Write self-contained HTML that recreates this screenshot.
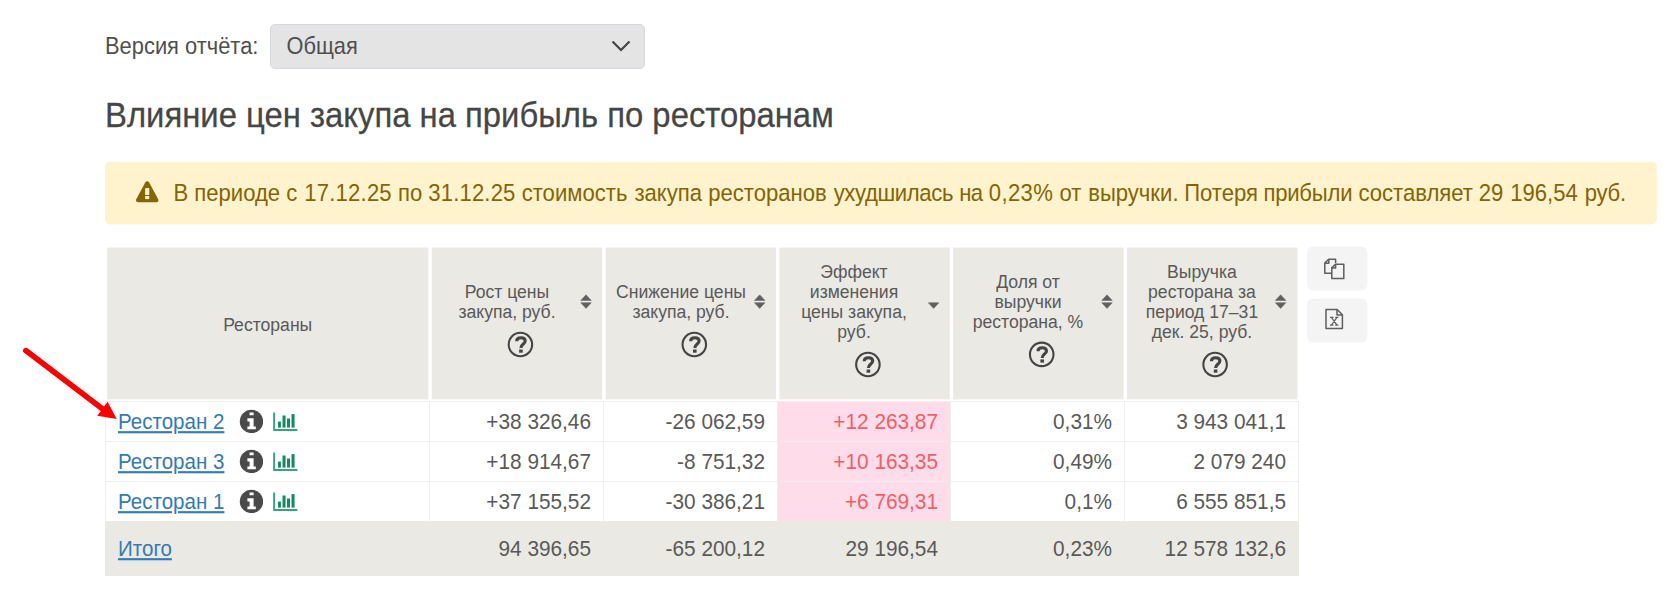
<!DOCTYPE html>
<html lang="ru">
<head>
<meta charset="utf-8">
<title>Влияние цен закупа на прибыль по ресторанам</title>
<style>
*{box-sizing:border-box;}
html,body{margin:0;padding:0;background:#fff;}
body{width:1680px;height:593px;overflow:hidden;position:relative;font-family:"Liberation Sans",sans-serif;color:#4d4d4d;}
.abs{position:absolute;}
#lbl{left:105px;top:33.5px;font-size:21.9px;line-height:26px;white-space:nowrap;color:#4f4f4f;transform-origin:0 20.65px;transform:scaleY(1.12);}
#sel{left:270px;top:24px;width:375px;height:45px;background:#e4e4e4;border:1px solid #d5d8df;border-radius:5px;}
#sel span{position:absolute;left:15.5px;top:8.55px;font-size:21.78px;line-height:26px;color:#4f4f4f;transform-origin:0 20.6px;transform:scaleY(1.12);}
#sel svg{position:absolute;left:340.4px;top:15.3px;}
#h1{left:105px;top:96.3px;font-size:32.85px;line-height:40px;white-space:nowrap;color:#464646;margin:0;font-weight:normal;transform-origin:0 31.35px;transform:scaleY(1.09);-webkit-text-stroke:0.25px #464646;}
#warn{left:105px;top:162px;width:1552px;height:63px;color:#856404;}
#warn span{position:absolute;left:68.4px;top:19px;font-size:22.1px;line-height:26px;white-space:nowrap;transform-origin:0 20.64px;transform:scaleY(1.075);}
#warn span i{position:absolute;top:0;font-style:normal;white-space:nowrap;}
#warn svg{position:absolute;left:30px;top:18px;}
.th{position:absolute;top:248.3px;height:151px;}
.th .t{position:absolute;font-size:17.6px;line-height:20px;text-align:center;color:#595959;white-space:nowrap;}
.q{position:absolute;}
.srt{position:absolute;}
.row{position:absolute;left:105px;width:1194px;height:41px;border:1px solid #f0eeeb;}
.c{position:absolute;top:0.4px;height:39px;font-size:20.8px;line-height:39px;text-align:right;white-space:nowrap;color:#595959;transform-origin:0 26.7px;transform:scaleY(1.05);}
.vl{position:absolute;top:401px;width:1px;height:120px;background:#f0eeeb;}
a{color:#337ab7;text-decoration:underline;}
.lnk{top:0.4px;font-size:20.55px;line-height:39px;white-space:nowrap;transform-origin:0 26.6px;transform:scaleY(1.063);}
.pink{background:#ffdbe8;}
.red{color:#f45d65;}
#tot{left:105px;top:521px;width:1194px;height:55px;background:#ebe9e4;}
#tot .c{height:55px;line-height:55px;transform-origin:0 34.7px;}
#tot .lnk{transform-origin:0 34.7px;}
.btn{position:absolute;left:1307px;width:60.3px;height:44px;background:#f4f4f4;border-radius:6px;}
</style>
</head>
<body>
<div id="lbl" class="abs">Версия отчёта:</div>
<div id="sel" class="abs"><span>Общая</span>
<svg width="20" height="12" viewBox="0 0 20 12"><path d="M1.5 1.5 L10 10 L18.5 1.5" fill="none" stroke="#444" stroke-width="2.2"/></svg>
</div>
<h1 id="h1" class="abs">Влияние цен закупа на прибыль по ресторанам</h1>
<svg class="abs" style="left:100px;top:155px;" width="1570" height="80" viewBox="100 155 1570 80"><rect x="105" y="161.8" width="1551.8" height="62.6" rx="5" fill="#fff3cd"/></svg>
<div id="warn" class="abs">
<svg width="25" height="24" viewBox="0 0 25 24"><g transform="translate(0.2,0.7)"><path d="M12 0.5 C12.7 0.5 13.4 0.9 13.8 1.6 L23 18.5 C23.7 19.8 22.8 21.5 21.2 21.5 L2.8 21.5 C1.2 21.5 0.3 19.8 1 18.5 L10.2 1.6 C10.6 0.9 11.3 0.5 12 0.5 Z" fill="#856404"/><rect x="9.95" y="7.4" width="4.1" height="6.9" fill="#fff3cd"/><rect x="9.95" y="15.3" width="4.1" height="3.1" fill="#fff3cd"/></g></svg>
<span><i style="left:0.0px;">В</i><i style="left:20.86px;">периоде</i><i style="left:112.86px;">с</i><i style="left:130.95px;letter-spacing:0.188px;">17.12.25</i><i style="left:224.59px;">по</i><i style="left:254.88px;letter-spacing:0.163px;">31.12.25</i><i style="left:348.32px;">стоимость</i><i style="left:461.06px;">закупа</i><i style="left:534.83px;">ресторанов</i><i style="left:660.25px;letter-spacing:-0.37px;">ухудшилась</i><i style="left:785.78px;letter-spacing:-0.5px;">на</i><i style="left:815.42px;letter-spacing:0.36px;">0,23%</i><i style="left:886.0px;">от</i><i style="left:914.77px;">выручки.</i><i style="left:1010.75px;">Потеря</i><i style="left:1090.03px;letter-spacing:-0.214px;">прибыли</i><i style="left:1185.03px;">составляет</i><i style="left:1305.42px;">29</i><i style="left:1336.84px;">196,54</i><i style="left:1411.24px;letter-spacing:-0.225px;">руб.</i></span>
</div>

<!-- header cells -->
<svg class="abs" style="left:100px;top:240px;" width="1280" height="290" viewBox="100 240 1280 290"><rect x="107.2" y="247.5" width="321.1" height="151.9" fill="#ebe9e4"/><rect x="431.8" y="247.5" width="170.4" height="151.9" fill="#ebe9e4"/><rect x="605.5" y="247.5" width="170.5" height="151.9" fill="#ebe9e4"/><rect x="779.4" y="247.5" width="170.3" height="151.9" fill="#ebe9e4"/><rect x="953.1" y="247.5" width="170.5" height="151.9" fill="#ebe9e4"/><rect x="1126.9" y="247.5" width="170.4" height="151.9" fill="#ebe9e4"/><rect x="1307" y="246.6" width="60.3" height="44" rx="6" fill="#f4f4f4"/><rect x="1307" y="298.6" width="60.3" height="44" rx="6" fill="#f4f4f4"/><rect x="777.5" y="402" width="172.9" height="119" fill="#ffdcea"/></svg>

<div class="th" style="left:107.3px;width:321.0px;"><div class="t" style="left:-0.1px;width:321px;top:66.5px;">Рестораны</div></div>
<div class="th" style="left:431.8px;width:170.4px;"><div class="t" style="left:0.2px;width:150px;top:33.5px;">Рост цены<br>закупа, руб.</div></div>
<div class="th" style="left:605.5px;width:170.5px;"><div class="t" style="left:0.5px;width:150px;top:33.5px;">Снижение цены<br>закупа, руб.</div></div>
<div class="th" style="left:779.4px;width:170.3px;"><div class="t" style="left:-0.4px;width:150px;top:13.5px;">Эффект<br>изменения<br>цены закупа,<br>руб.</div></div>
<div class="th" style="left:953.1px;width:170.5px;"><div class="t" style="left:-0.1px;width:150px;top:23.5px;">Доля от<br>выручки<br>ресторана, %</div></div>
<div class="th" style="left:1126.9px;width:170.4px;"><div class="t" style="left:0.1px;width:150px;top:13.5px;">Выручка<br>ресторана за<br>период 17–31<br>дек. 25, руб.</div></div>

<svg class="abs" style="left:506px;top:330px;" width="29" height="29" viewBox="-14 -14 29 29"><g transform="translate(0.4,0.5)"><circle cx="0" cy="0" r="11.75" fill="none" stroke="#444" stroke-width="2.1"/><path d="M-3.7,-3.2 C-3.7,-5.6 -1.9,-6.7 0.6,-6.7 C3.1,-6.7 4.8,-5.4 4.8,-3.4 C4.8,-0.5 0.5,-0.4 0.5,3.5" fill="none" stroke="#444" stroke-width="3.1"/><rect x="-1.3" y="5.0" width="3.6" height="3.2" fill="#444"/></g></svg>
<svg class="abs" style="left:579px;top:294px;" width="15" height="16" viewBox="-7 0 15 16"><g transform="translate(0.0,0)"><path d="M0,0.85 L5.25,6.4 L-5.25,6.4 Z" fill="#606060" stroke="#606060" stroke-width="0.5" stroke-linejoin="round"/><path d="M-5.25,8.7 L5.25,8.7 L0,14.4 Z" fill="#606060" stroke="#606060" stroke-width="0.5" stroke-linejoin="round"/></g></svg>
<svg class="abs" style="left:680px;top:330px;" width="29" height="29" viewBox="-14 -14 29 29"><g transform="translate(0.3,0.5)"><circle cx="0" cy="0" r="11.75" fill="none" stroke="#444" stroke-width="2.1"/><path d="M-3.7,-3.2 C-3.7,-5.6 -1.9,-6.7 0.6,-6.7 C3.1,-6.7 4.8,-5.4 4.8,-3.4 C4.8,-0.5 0.5,-0.4 0.5,3.5" fill="none" stroke="#444" stroke-width="3.1"/><rect x="-1.3" y="5.0" width="3.6" height="3.2" fill="#444"/></g></svg>
<svg class="abs" style="left:752px;top:294px;" width="15" height="16" viewBox="-7 0 15 16"><g transform="translate(0.7,0)"><path d="M0,0.85 L5.25,6.4 L-5.25,6.4 Z" fill="#606060" stroke="#606060" stroke-width="0.5" stroke-linejoin="round"/><path d="M-5.25,8.7 L5.25,8.7 L0,14.4 Z" fill="#606060" stroke="#606060" stroke-width="0.5" stroke-linejoin="round"/></g></svg>
<svg class="abs" style="left:853px;top:350px;" width="29" height="29" viewBox="-14 -14 29 29"><g transform="translate(0.9,0.5)"><circle cx="0" cy="0" r="11.75" fill="none" stroke="#444" stroke-width="2.1"/><path d="M-3.7,-3.2 C-3.7,-5.6 -1.9,-6.7 0.6,-6.7 C3.1,-6.7 4.8,-5.4 4.8,-3.4 C4.8,-0.5 0.5,-0.4 0.5,3.5" fill="none" stroke="#444" stroke-width="3.1"/><rect x="-1.3" y="5.0" width="3.6" height="3.2" fill="#444"/></g></svg>
<svg class="abs" style="left:926px;top:294px;" width="15" height="16" viewBox="-7 0 15 16"><g transform="translate(0.6,0)"><path d="M-5.25,8.7 L5.25,8.7 L0,14.4 Z" fill="#606060" stroke="#606060" stroke-width="0.5" stroke-linejoin="round"/></g></svg>
<svg class="abs" style="left:1027px;top:340px;" width="29" height="29" viewBox="-14 -14 29 29"><g transform="translate(0.7,0.4)"><circle cx="0" cy="0" r="11.75" fill="none" stroke="#444" stroke-width="2.1"/><path d="M-3.7,-3.2 C-3.7,-5.6 -1.9,-6.7 0.6,-6.7 C3.1,-6.7 4.8,-5.4 4.8,-3.4 C4.8,-0.5 0.5,-0.4 0.5,3.5" fill="none" stroke="#444" stroke-width="3.1"/><rect x="-1.3" y="5.0" width="3.6" height="3.2" fill="#444"/></g></svg>
<svg class="abs" style="left:1100px;top:294px;" width="15" height="16" viewBox="-7 0 15 16"><g transform="translate(0.0,0)"><path d="M0,0.85 L5.25,6.4 L-5.25,6.4 Z" fill="#606060" stroke="#606060" stroke-width="0.5" stroke-linejoin="round"/><path d="M-5.25,8.7 L5.25,8.7 L0,14.4 Z" fill="#606060" stroke="#606060" stroke-width="0.5" stroke-linejoin="round"/></g></svg>
<svg class="abs" style="left:1201px;top:350px;" width="29" height="29" viewBox="-14 -14 29 29"><g transform="translate(0.1,0.5)"><circle cx="0" cy="0" r="11.75" fill="none" stroke="#444" stroke-width="2.1"/><path d="M-3.7,-3.2 C-3.7,-5.6 -1.9,-6.7 0.6,-6.7 C3.1,-6.7 4.8,-5.4 4.8,-3.4 C4.8,-0.5 0.5,-0.4 0.5,3.5" fill="none" stroke="#444" stroke-width="3.1"/><rect x="-1.3" y="5.0" width="3.6" height="3.2" fill="#444"/></g></svg>
<svg class="abs" style="left:1273px;top:294px;" width="15" height="16" viewBox="-7 0 15 16"><g transform="translate(0.6,0)"><path d="M0,0.85 L5.25,6.4 L-5.25,6.4 Z" fill="#606060" stroke="#606060" stroke-width="0.5" stroke-linejoin="round"/><path d="M-5.25,8.7 L5.25,8.7 L0,14.4 Z" fill="#606060" stroke="#606060" stroke-width="0.5" stroke-linejoin="round"/></g></svg>
<svg class="abs" style="left:1322px;top:256px;" width="25" height="25" viewBox="0 0 25 25" fill="none" stroke="#5e5e5e" stroke-width="1.5" stroke-linejoin="round"><g transform="translate(0.2,0.5)"><path d="M10.5 16.8 H2.6 V6.6 L6.4 2.8 H13.4 V6.6"/><path d="M2.8 6.8 H6.6 V3"/><path d="M9.6 11.4 L13.2 7.8 H21.6 V22 H9.6 Z" fill="#f4f4f4"/><path d="M9.8 11.6 H13.4 V8"/></g></svg>
<svg class="abs" style="left:1324px;top:307px;" width="23" height="25" viewBox="0 0 23 25" fill="none" stroke="#5e5e5e" stroke-width="1.5" stroke-linejoin="round"><g transform="translate(0,0.8)"><path d="M2 1.7 H13.2 L18.4 6.9 V20.8 H2 Z"/><path d="M13 1.9 V7.1 H18.2"/><path d="M6 9.6 H9.4 M11.2 9.6 H14.4 M6 17.4 H9.4 M11.2 17.4 H14.4 M7.4 9.6 L13 17.4 M13 9.6 L7.4 17.4" stroke-width="1.2"/></g></svg>
<!-- rows -->
<div class="row" style="top:401px;">
<a class="lnk abs" style="left:12px;">Ресторан 2</a>
<svg class="info abs" style="left:133px;top:7px;" width="24" height="24" viewBox="-12 -12 24 24"><g transform="translate(0.5,0.4)"><circle cx="0" cy="0" r="11.7" fill="#4a4a4a"/><path d="M-1.9,-9 h4 v2.9 h-4z M-4.1,-3.2 h6.2 v8.4 h2.2 v2.7 h-8.4 v-2.7 h2.2 v-5 h-2.2z" fill="#fff"/></g></svg>
<svg class="chart abs" style="left:166px;top:9px;" width="28" height="22" viewBox="0 0 28 22"><path d="M2.1 1.45V19H25.45" fill="none" stroke="#36a57c" stroke-width="1.9"/><rect x="5.9" y="10.6" width="3" height="6" fill="#148d63"/><rect x="10.5" y="4.5" width="3.1" height="12.1" fill="#148d63"/><rect x="15" y="7.5" width="3" height="9.1" fill="#148d63"/><rect x="19.5" y="3.1" width="3.1" height="13.5" fill="#148d63"/></svg>
<div class="c" style="right:707px;">+38 326,46</div>
<div class="c" style="right:533px;">-26 062,59</div>
<div class="c red" style="right:360px;">+12 263,87</div>
<div class="c" style="right:186px;">0,31%</div>
<div class="c" style="right:12px;">3 943 041,1</div>
</div>
<div class="row" style="top:441px;">
<a class="lnk abs" style="left:12px;">Ресторан 3</a>
<svg class="info abs" style="left:133px;top:7px;" width="24" height="24" viewBox="-12 -12 24 24"><g transform="translate(0.5,0.4)"><circle cx="0" cy="0" r="11.7" fill="#4a4a4a"/><path d="M-1.9,-9 h4 v2.9 h-4z M-4.1,-3.2 h6.2 v8.4 h2.2 v2.7 h-8.4 v-2.7 h2.2 v-5 h-2.2z" fill="#fff"/></g></svg>
<svg class="chart abs" style="left:166px;top:9px;" width="28" height="22" viewBox="0 0 28 22"><path d="M2.1 1.45V19H25.45" fill="none" stroke="#36a57c" stroke-width="1.9"/><rect x="5.9" y="10.6" width="3" height="6" fill="#148d63"/><rect x="10.5" y="4.5" width="3.1" height="12.1" fill="#148d63"/><rect x="15" y="7.5" width="3" height="9.1" fill="#148d63"/><rect x="19.5" y="3.1" width="3.1" height="13.5" fill="#148d63"/></svg>
<div class="c" style="right:707px;">+18 914,67</div>
<div class="c" style="right:533px;">-8 751,32</div>
<div class="c red" style="right:360px;">+10 163,35</div>
<div class="c" style="right:186px;">0,49%</div>
<div class="c" style="right:12px;">2 079 240</div>
</div>
<div class="row" style="top:481px;">
<a class="lnk abs" style="left:12px;">Ресторан 1</a>
<svg class="info abs" style="left:133px;top:7px;" width="24" height="24" viewBox="-12 -12 24 24"><g transform="translate(0.5,0.4)"><circle cx="0" cy="0" r="11.7" fill="#4a4a4a"/><path d="M-1.9,-9 h4 v2.9 h-4z M-4.1,-3.2 h6.2 v8.4 h2.2 v2.7 h-8.4 v-2.7 h2.2 v-5 h-2.2z" fill="#fff"/></g></svg>
<svg class="chart abs" style="left:166px;top:9px;" width="28" height="22" viewBox="0 0 28 22"><path d="M2.1 1.45V19H25.45" fill="none" stroke="#36a57c" stroke-width="1.9"/><rect x="5.9" y="10.6" width="3" height="6" fill="#148d63"/><rect x="10.5" y="4.5" width="3.1" height="12.1" fill="#148d63"/><rect x="15" y="7.5" width="3" height="9.1" fill="#148d63"/><rect x="19.5" y="3.1" width="3.1" height="13.5" fill="#148d63"/></svg>
<div class="c" style="right:707px;">+37 155,52</div>
<div class="c" style="right:533px;">-30 386,21</div>
<div class="c red" style="right:360px;">+6 769,31</div>
<div class="c" style="right:186px;">0,1%</div>
<div class="c" style="right:12px;">6 555 851,5</div>
</div>
<div class="vl" style="left:429px;"></div>
<div class="vl" style="left:603px;"></div>
<div class="vl" style="left:777px;"></div>
<div class="vl" style="left:950.3px;"></div>
<div class="vl" style="left:1124px;"></div>
<div id="tot" class="abs">
<a class="lnk abs" style="left:13px;line-height:55px;">Итого</a>
<div class="c" style="right:708px;">94 396,65</div>
<div class="c" style="right:534px;">-65 200,12</div>
<div class="c" style="right:361px;">29 196,54</div>
<div class="c" style="right:187px;">0,23%</div>
<div class="c" style="right:13px;">12 578 132,6</div>
</div>
<svg class="abs" style="left:0;top:330px;" width="140" height="110" viewBox="0 330 140 110">
<path d="M25.8 350.6 L104 410" stroke="#ff0000" stroke-width="5.6" stroke-linecap="round" fill="none"/>
<path d="M116.7 419 L97.3 415.7 L107.6 401.7 Z" fill="#ff0000"/>
</svg>
</body>
</html>
